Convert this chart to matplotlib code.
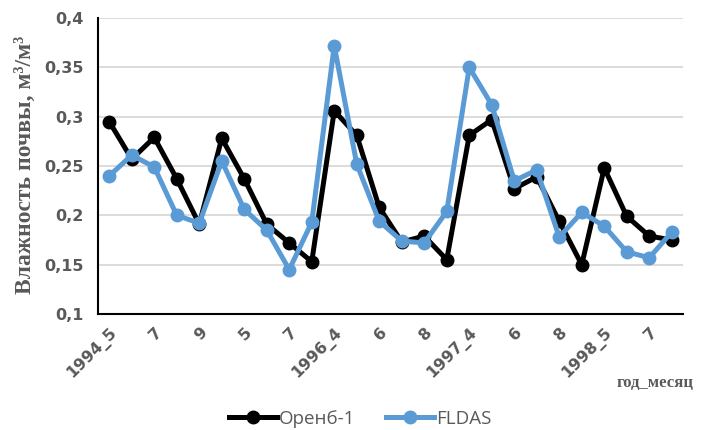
import matplotlib
matplotlib.use("Agg")
import matplotlib.pyplot as plt

categories = ["1994_5", "6", "7", "8", "9", "1995_4", "5", "6", "7", "8",
              "1996_4", "5", "6", "7", "8", "9", "1997_4", "5", "6", "7",
              "8", "9", "1998_5", "6", "7", "8"]
orenb = [0.295, 0.257, 0.279, 0.237, 0.191, 0.278, 0.237, 0.191, 0.172, 0.153,
         0.306, 0.281, 0.208, 0.173, 0.179, 0.155, 0.281, 0.297, 0.227, 0.239,
         0.194, 0.150, 0.248, 0.199, 0.179, 0.175]
fldas = [0.240, 0.261, 0.249, 0.200, 0.192, 0.255, 0.206, 0.185, 0.145, 0.193,
         0.372, 0.252, 0.194, 0.174, 0.172, 0.204, 0.350, 0.312, 0.235, 0.246,
         0.178, 0.203, 0.189, 0.163, 0.157, 0.183]
yticks = [0.1, 0.15, 0.2, 0.25, 0.3, 0.35, 0.4]
ytick_labels = ["0,1", "0,15", "0,2", "0,25", "0,3", "0,35", "0,4"]

gray = "#595959"
fig = plt.figure(figsize=(7.08, 4.30), dpi=100)
ax = fig.add_axes([98/708, 1-314/430, 585/708, 296/430])
x = list(range(len(categories)))
ax.plot(x, orenb, color="black", lw=3.6, marker="o", ms=9, label="Оренб-1", zorder=3)
ax.plot(x, fldas, color="#5B9BD5", lw=3.6, marker="o", ms=9, label="FLDAS", zorder=4)

ax.set_xlim(-0.5, len(categories) - 0.5)
ax.set_ylim(0.1, 0.4)
ax.set_yticks(yticks)
ax.set_yticklabels(ytick_labels, fontsize=11.5, fontweight="bold", color=gray,
                   family="DejaVu Sans")
ax.yaxis.grid(True, color="#d9d9d9", lw=1.3)
ax.set_axisbelow(True)
ax.tick_params(axis="y", length=0, pad=10)
ax.set_xticks(x[::2])
ax.set_xticklabels(categories[::2], rotation=45, ha="right", rotation_mode="anchor",
                   fontsize=11.5, fontweight="bold", color=gray, family="DejaVu Sans")
ax.tick_params(axis="x", length=0, pad=8)
for s in ["top", "right"]:
    ax.spines[s].set_visible(False)
for s in ["left", "bottom"]:
    ax.spines[s].set_linewidth(1.5)
    ax.spines[s].set_color("black")

fig.text(25/708, 1-165/430, "Влажность почвы, м³/м³", rotation=90, ha="center",
         va="center", fontsize=17, fontweight="bold", color=gray, family="Liberation Serif")
fig.text(655/708, 1-383/430, "год_месяц", ha="center", va="center", fontsize=12,
         fontweight="bold", color=gray, family="Liberation Serif")
leg = fig.legend(loc="center", bbox_to_anchor=(360/708, 1-419/430), ncol=2, frameon=False,
                 fontsize=13.5, handlelength=2.6, columnspacing=1.6, handletextpad=0.1)
for t in leg.get_texts():
    t.set_color(gray)
    t.set_family("Open Sans")
fig.savefig("out.png", dpi=100)
